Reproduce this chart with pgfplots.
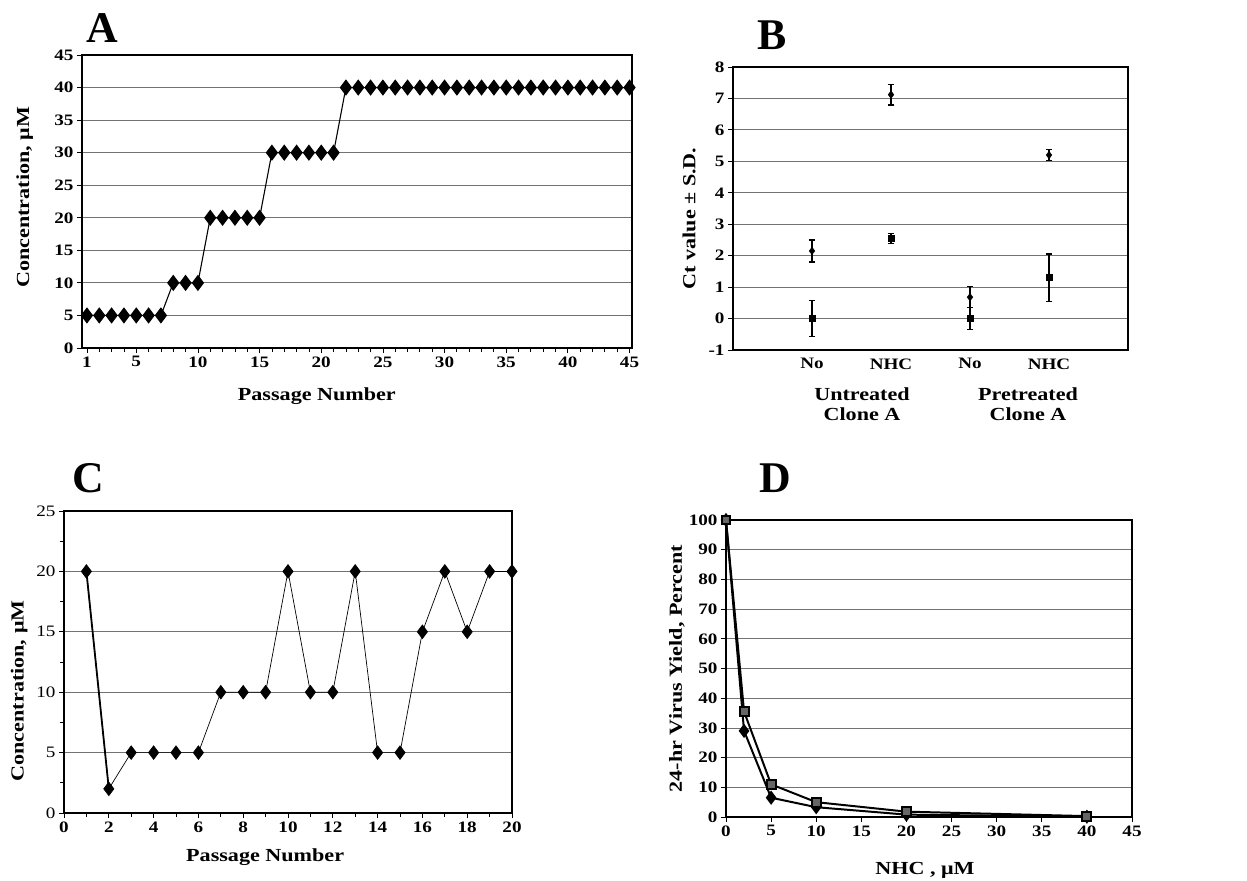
\documentclass[border=0pt]{standalone}
\usepackage{fontspec}
\setmainfont{Liberation Serif}[FakeStretch=1.2]
\newfontfamily\titlefont{Liberation Serif}
\usepackage{pgfplots}
\pgfplotsset{compat=1.18}
\newcommand\tickfont{\bfseries\fontsize{16}{16}\selectfont}
\newcommand\labfont{\bfseries\fontsize{18.5}{20}\selectfont}
\newcommand\panelfont{\titlefont\bfseries\fontsize{44}{44}\selectfont}
\pgfplotsset{panel/.style={scale only axis, anchor=north west, clip=false,
  axis line style={line width=1.3pt}, tick style={black,line width=0.8pt},
  tick align=outside, tick pos=left, major tick length=5bp, minor tick length=4bp,
  ymajorgrids, major grid style={black!55,line width=0.8pt},
  ticklabel style={font=\tickfont}, /pgf/number format/assume math mode=true,
  label style={font=\labfont}, xlabel style={anchor=center}, ylabel style={anchor=center}}}
\begin{document}
\begin{tikzpicture}
\useasboundingbox (0,0) rectangle (1247bp,-881bp);
% panel A
\begin{axis}[panel, at={(82bp,-55bp)}, width=550bp, height=293bp,
  xmin=0.6, xmax=45.2, ymin=0, ymax=45,
  xtick={1,5,10,15,20,25,30,35,40,45}, minor xtick={1,...,45}, ytick={0,5,...,45},
  xlabel={Passage Number}, ylabel={Concentration, μM},
  xlabel style={at={(axis description cs:0.427,-0.164)}},
  ylabel style={at={(axis description cs:-0.104,0.514)}}]
\addplot[black, line width=1.1pt, mark=diamond*, mark size=7.3] coordinates {
(1,5)(2,5)(3,5)(4,5)(5,5)(6,5)(7,5)(8,10)(9,10)(10,10)
(11,20)(12,20)(13,20)(14,20)(15,20)(16,30)(17,30)(18,30)(19,30)(20,30)(21,30)
(22,40)(23,40)(24,40)(25,40)(26,40)(27,40)(28,40)(29,40)(30,40)(31,40)(32,40)(33,40)
(34,40)(35,40)(36,40)(37,40)(38,40)(39,40)(40,40)(41,40)(42,40)(43,40)(44,40)(45,40)};
\end{axis}
% panel B
\begin{axis}[panel, at={(733bp,-67bp)}, width=395bp, height=283bp,
  xmin=0, xmax=5, ymin=-1, ymax=8, ytick={-1,0,...,8},
  xtick={1,2,3,4}, xticklabels={No,NHC,No,NHC}, major x tick style={draw=none},
  ylabel={Ct value ± S.D.},
  ylabel style={at={(axis description cs:-0.111,0.465)}}]
\addplot[black, only marks, mark=diamond*, mark size=3.8,
  error bars/.cd, y dir=both, y explicit, error bar style={line width=1.2pt},
  error mark options={rotate=90, mark size=3.5pt, line width=1.2pt}] coordinates {
(1,2.15) +- (0,0.35) (2,7.12) +- (0,0.33) (3,0.68) +- (0,0.33) (4,5.2) +- (0,0.17)};
\addplot[black, only marks, mark=square*, mark size=3,
  error bars/.cd, y dir=both, y explicit, error bar style={line width=1.2pt},
  error mark options={rotate=90, mark size=3.5pt, line width=1.2pt}] coordinates {
(1,0) +- (0,0.57) (2,2.55) +- (0,0.16) (3,0) +- (0,0.36) (4,1.3) +- (0,0.75)};
\end{axis}
\node[font=\labfont, align=center] at (862bp,-404bp) {Untreated\\Clone A};
\node[font=\labfont, align=center] at (1028bp,-404bp) {Pretreated\\Clone A};
% panel C
\begin{axis}[panel, at={(64bp,-511bp)}, width=448bp, height=302bp,
  xmin=0, xmax=20, ymin=0, ymax=25, xtick={0,2,...,20}, minor xtick={0,...,20},
  ytick={0,5,...,25}, minor ytick={2.5,7.5,...,22.5},
  yticklabel style={font=\fontsize{16}{16}\selectfont},
  xlabel={Passage Number}, ylabel={Concentration, μM},
  xlabel style={at={(axis description cs:0.449,-0.146)}},
  ylabel style={at={(axis description cs:-0.100,0.404)}}]
\addplot[black, line width=1.8pt] coordinates {(1,20)(2,2)};
\addplot[black, line width=0.7pt, mark=diamond*, mark size=6.8, mark options={solid}] coordinates {
(1,20)(2,2)(3,5)(4,5)(5,5)(6,5)(7,10)(8,10)(9,10)(10,20)(11,10)(12,10)(13,20)
(14,5)(15,5)(16,15)(17,20)(18,15)(19,20)(20,20)};
\end{axis}
% panel D
\begin{axis}[panel, at={(726bp,-520bp)}, width=406bp, height=297bp,
  xmin=0, xmax=45, ymin=0, ymax=100, xtick={0,5,...,45}, ytick={0,10,...,100},
  xlabel={NHC , μM}, ylabel={24-hr Virus Yield, Percent},
  xlabel style={at={(axis description cs:0.49,-0.178)}},
  ylabel style={at={(axis description cs:-0.121,0.5)}}]
\addplot[black, line width=2pt, mark=diamond*, mark size=5.5] coordinates {
(0,100)(2,29)(5,6.5)(10,3.3)(20,0.8)(40,0.1)};
\addplot[black, line width=2pt, mark=square*, mark size=4.5, mark options={fill=black!60}] coordinates {
(0,100)(2,35.5)(5,11)(10,5)(20,1.8)(40,0.3)};
\end{axis}
\node[font=\panelfont] at (102bp,-28bp) {A};
\node[font=\panelfont] at (772bp,-35bp) {B};
\node[font=\panelfont] at (88bp,-478bp) {C};
\node[font=\panelfont] at (775bp,-478bp) {D};
\end{tikzpicture}
\end{document}
